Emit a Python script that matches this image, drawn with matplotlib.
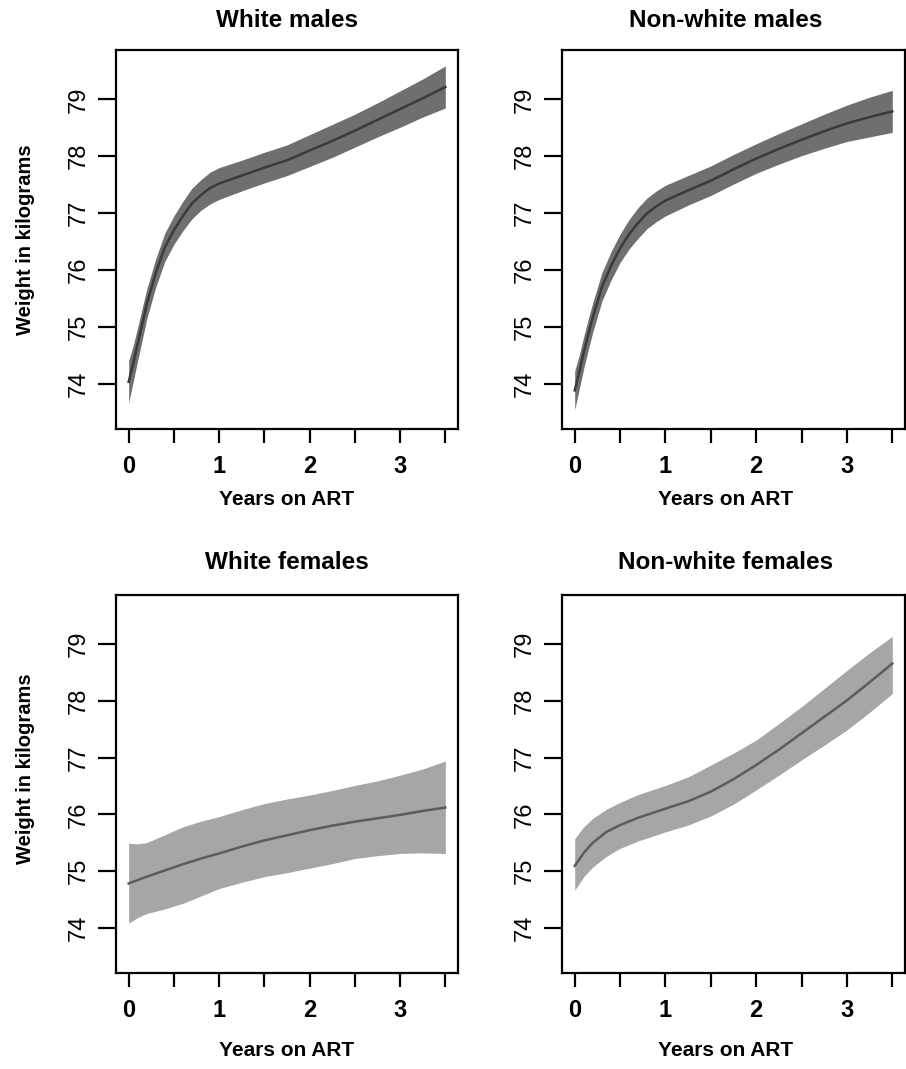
import matplotlib
matplotlib.use("Agg")
import matplotlib.pyplot as plt

plt.rcParams['font.family'] = ['Liberation Sans', 'DejaVu Sans']

titles = ["White males", "Non-white males", "White females", "Non-white females"]
xlabel = "Years on ART"
ylabel = "Weight in kilograms"

# White males
wm_x = [0, 0.05, 0.1, 0.15, 0.2, 0.3, 0.4, 0.5, 0.6, 0.7, 0.8, 0.9, 1.0, 1.25, 1.5, 1.75, 2.0, 2.25, 2.5, 2.75, 3.0, 3.25, 3.5]
wm_mean = [74.03, 74.35, 74.70, 75.05, 75.40, 75.95, 76.40, 76.70, 76.95, 77.17, 77.32, 77.44, 77.52, 77.66, 77.80, 77.93, 78.10, 78.27, 78.45, 78.64, 78.83, 79.02, 79.22]
wm_lo = [73.66, 74.03, 74.41, 74.77, 75.14, 75.70, 76.15, 76.45, 76.69, 76.90, 77.05, 77.16, 77.24, 77.39, 77.53, 77.66, 77.82, 77.98, 78.16, 78.34, 78.51, 78.69, 78.85]
wm_hi = [74.40, 74.67, 74.99, 75.33, 75.66, 76.20, 76.65, 76.95, 77.21, 77.44, 77.59, 77.72, 77.80, 77.93, 78.07, 78.20, 78.38, 78.56, 78.74, 78.94, 79.15, 79.36, 79.59]

# Non-white males
nm_x = [0, 0.05, 0.1, 0.15, 0.2, 0.3, 0.4, 0.5, 0.6, 0.7, 0.8, 0.9, 1.0, 1.25, 1.5, 1.75, 2.0, 2.25, 2.5, 2.75, 3.0, 3.25, 3.5]
nm_mean = [73.88, 74.20, 74.55, 74.87, 75.17, 75.70, 76.07, 76.38, 76.63, 76.83, 77.00, 77.12, 77.22, 77.40, 77.57, 77.77, 77.96, 78.13, 78.29, 78.44, 78.58, 78.69, 78.79]
nm_lo = [73.54, 73.90, 74.27, 74.60, 74.91, 75.45, 75.82, 76.13, 76.37, 76.56, 76.73, 76.85, 76.95, 77.14, 77.31, 77.51, 77.70, 77.86, 78.01, 78.14, 78.26, 78.34, 78.42]
nm_hi = [74.22, 74.50, 74.83, 75.14, 75.43, 75.95, 76.32, 76.63, 76.89, 77.10, 77.27, 77.39, 77.49, 77.66, 77.83, 78.03, 78.22, 78.40, 78.57, 78.74, 78.90, 79.04, 79.16]

# White females
wf_x = [0, 0.1, 0.2, 0.4, 0.6, 0.8, 1.0, 1.25, 1.5, 1.75, 2.0, 2.25, 2.5, 2.75, 3.0, 3.25, 3.5]
wf_mean = [74.78, 74.84, 74.90, 75.01, 75.12, 75.22, 75.31, 75.43, 75.54, 75.63, 75.72, 75.80, 75.87, 75.93, 75.99, 76.06, 76.12]
wf_lo = [74.08, 74.18, 74.25, 74.33, 74.43, 74.56, 74.69, 74.80, 74.90, 74.97, 75.05, 75.13, 75.22, 75.27, 75.31, 75.32, 75.31]
wf_hi = [75.49, 75.48, 75.50, 75.64, 75.78, 75.88, 75.96, 76.08, 76.19, 76.27, 76.34, 76.42, 76.51, 76.59, 76.69, 76.80, 76.94]

# Non-white females
nf_x = [0, 0.1, 0.2, 0.35, 0.5, 0.7, 1.0, 1.25, 1.5, 1.75, 2.0, 2.25, 2.5, 2.75, 3.0, 3.25, 3.5]
nf_mean = [75.09, 75.32, 75.50, 75.69, 75.81, 75.94, 76.10, 76.23, 76.40, 76.62, 76.87, 77.14, 77.43, 77.72, 78.01, 78.33, 78.66]
nf_lo = [74.66, 74.90, 75.07, 75.26, 75.40, 75.53, 75.69, 75.81, 75.97, 76.18, 76.43, 76.69, 76.96, 77.22, 77.49, 77.80, 78.13]
nf_hi = [75.57, 75.78, 75.93, 76.09, 76.21, 76.35, 76.51, 76.66, 76.87, 77.08, 77.31, 77.60, 77.90, 78.22, 78.54, 78.85, 79.14]

xs = [wm_x, nm_x, wf_x, nf_x]
means = [wm_mean, nm_mean, wf_mean, nf_mean]
los = [wm_lo, nm_lo, wf_lo, nf_lo]
his = [wm_hi, nm_hi, wf_hi, nf_hi]
band_colors = ["#6f6f6f", "#6f6f6f", "#a6a6a6", "#a6a6a6"]
line_colors = ["#3a3a3a", "#3a3a3a", "#5c5c5c", "#5c5c5c"]

xticks = [0, 0.5, 1, 1.5, 2, 2.5, 3, 3.5]
xticklabels = ["0", "", "1", "", "2", "", "3", ""]
yticks = [74, 75, 76, 77, 78, 79]

W, H = 906, 1069
fig = plt.figure(figsize=(W / 100, H / 100), dpi=100)

boxes = [(116, 50, 458, 429), (562, 50, 905, 429), (116, 595, 458, 973), (562, 595, 905, 973)]

for i, (l, t, r, b) in enumerate(boxes):
    ax = fig.add_axes([l / W, 1 - b / H, (r - l) / W, (b - t) / H])
    ax.fill_between(xs[i], los[i], his[i], color=band_colors[i], linewidth=0)
    ax.plot(xs[i], means[i], color=line_colors[i], linewidth=1.8)
    ax.set_xlim(-0.14, 3.64)
    ax.set_ylim(73.2, 79.87)
    ax.set_xticks(xticks)
    ax.set_xticklabels(xticklabels, fontsize=17, fontweight='bold')
    ax.set_yticks(yticks)
    ax.set_yticklabels([str(v) for v in yticks], fontsize=17, rotation=90, va='center')
    ax.tick_params(axis='x', length=10, width=1.6, pad=9)
    ax.tick_params(axis='y', length=13, width=1.6, pad=6)
    for s in ax.spines.values():
        s.set_linewidth(1.6)
    ttl_x = 0.5 if i % 2 == 0 else 0.478
    ttl_y = 1.079 if i < 2 else 1.085
    ax.text(ttl_x, ttl_y, titles[i], transform=ax.transAxes, ha='center', va='center',
            fontsize=17.5, fontweight='bold')
    ax.set_xlabel(xlabel, fontsize=15, fontweight='bold', va='center')
    ax.xaxis.set_label_coords(0.5 if i % 2 == 0 else 0.478, -0.187 if i < 2 else -0.204)
    if i % 2 == 0:
        ax.set_ylabel(ylabel, fontsize=14.5, fontweight='bold', va='center')
        ax.yaxis.set_label_coords(-0.266, 0.5 if i < 2 else 0.54)

fig.savefig("out.png", dpi=100)
